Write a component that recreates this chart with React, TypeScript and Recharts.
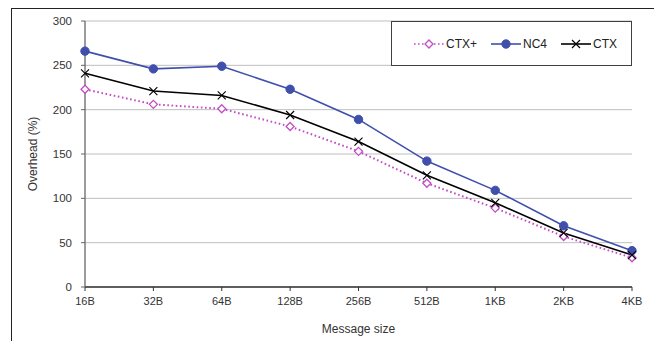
import React from 'react';
import {
  LineChart,
  Line,
  XAxis,
  YAxis,
  CartesianGrid,
} from 'recharts';

const sizes = ['16B', '32B', '64B', '128B', '256B', '512B', '1KB', '2KB', '4KB'];
const ctxPlus = [223, 206, 201, 181, 153, 117, 89, 57, 33];
const nc4 = [266, 246, 249, 223, 189, 142, 109, 69, 41];
const ctx = [241, 221, 216, 194, 164, 126, 95, 61, 36];
const yTicks = [0, 50, 100, 150, 200, 250, 300];

const data = sizes.map((size, i) => ({
  size,
  ctxPlus: ctxPlus[i],
  nc4: nc4[i],
  ctx: ctx[i],
}));

const BLUE = '#3f4fab';
const MAGENTA = '#c44cc4';
const FONT = '"Liberation Sans", Arial, sans-serif';

interface DotProps {
  cx?: number;
  cy?: number;
}

// 空心菱形
const DiamondDot = ({ cx = 0, cy = 0 }: DotProps) => (
  <path
    d={`M${cx},${cy - 4} L${cx + 4},${cy} L${cx},${cy + 4} L${cx - 4},${cy} Z`}
    fill="white"
    stroke={MAGENTA}
    strokeWidth={1.3}
  />
);

const CircleDot = ({ cx = 0, cy = 0 }: DotProps) => (
  <circle cx={cx} cy={cy} r={4.2} fill={BLUE} stroke={BLUE} />
);

const CrossDot = ({ cx = 0, cy = 0 }: DotProps) => (
  <path
    d={`M${cx - 4},${cy - 4} L${cx + 4},${cy + 4} M${cx - 4},${cy + 4} L${cx + 4},${cy - 4}`}
    stroke="#000"
    strokeWidth={1.1}
  />
);

const LegendBox = () => {
  const item = (label: string, line: React.ReactNode) => (
    <div style={{ display: 'flex', alignItems: 'center', marginRight: 14 }}>
      <svg width={30} height={12}>{line}</svg>
      <span style={{ marginLeft: 2 }}>{label}</span>
    </div>
  );
  return (
    <div
      style={{
        position: 'absolute',
        left: 383,
        top: 13,
        boxSizing: 'border-box',
        width: 241,
        height: 45,
        border: '1px solid #404040',
        background: 'white',
        display: 'flex',
        alignItems: 'center',
        justifyContent: 'flex-end',
        fontFamily: FONT,
        fontSize: 12,
        color: '#222',
      }}
    >
      {item(
        'CTX+',
        <g>
          <line x1={0} y1={6} x2={30} y2={6} stroke={MAGENTA} strokeWidth={1.6} strokeDasharray="1.6 2.4" />
          <DiamondDot cx={15} cy={6} />
        </g>,
      )}
      {item(
        'NC4',
        <g>
          <line x1={0} y1={6} x2={30} y2={6} stroke={BLUE} strokeWidth={1.6} />
          <CircleDot cx={15} cy={6} />
        </g>,
      )}
      {item(
        'CTX',
        <g>
          <line x1={0} y1={6} x2={30} y2={6} stroke="#000" strokeWidth={1.6} />
          <CrossDot cx={15} cy={6} />
        </g>,
      )}
    </div>
  );
};

const App: React.FC = () => {
  return (
    <div style={{ position: 'relative', width: 654, height: 333 }}>
      <LineChart
        width={654}
        height={333}
        data={data}
        margin={{ top: 13, right: 30, bottom: 8, left: 17 }}
      >
        <CartesianGrid vertical={false} stroke="#bfbfbf" strokeWidth={1} />
        <XAxis
          dataKey="size"
          scale="point"
          padding={{ left: 0, right: 0 }}
          tickSize={4}
          tickMargin={6}
          height={46}
          axisLine={{ stroke: '#333', strokeWidth: 1.3 }}
          tickLine={{ stroke: '#333' }}
          tick={{ fontSize: 11, fill: '#333', fontFamily: FONT }}
          label={{
            value: 'Message size',
            position: 'insideBottom',
            offset: 0,
            style: { fontSize: 12, fill: '#333', fontFamily: FONT },
          }}
        />
        <YAxis
          domain={[0, 300]}
          ticks={yTicks}
          width={60}
          tickSize={4}
          tickMargin={9}
          axisLine={{ stroke: '#666', strokeWidth: 1.3 }}
          tickLine={{ stroke: '#666' }}
          tick={{ fontSize: 11.5, fill: '#333', fontFamily: FONT }}
          label={{
            value: 'Overhead (%)',
            angle: -90,
            position: 'insideLeft',
            offset: 8,
            style: { textAnchor: 'middle', fontSize: 12, fill: '#333', fontFamily: FONT },
          }}
        />
        <Line
          dataKey="ctxPlus"
          stroke={MAGENTA}
          strokeWidth={2}
          strokeDasharray="1.6 2.6"
          dot={(p: DotProps & { key?: string }) => <DiamondDot key={p.key} cx={p.cx} cy={p.cy} />}
          isAnimationActive={false}
        />
        <Line
          dataKey="nc4"
          stroke={BLUE}
          strokeWidth={1.6}
          dot={(p: DotProps & { key?: string }) => <CircleDot key={p.key} cx={p.cx} cy={p.cy} />}
          isAnimationActive={false}
        />
        <Line
          dataKey="ctx"
          stroke="#000"
          strokeWidth={1.6}
          dot={(p: DotProps & { key?: string }) => <CrossDot key={p.key} cx={p.cx} cy={p.cy} />}
          isAnimationActive={false}
        />
      </LineChart>
      <LegendBox />
      {/* 外框 */}
      <div
        style={{
          position: 'absolute',
          left: 3,
          top: 0,
          width: 645,
          height: 360,
          border: '1.5px solid #222',
          boxSizing: 'border-box',
          pointerEvents: 'none',
        }}
      />
    </div>
  );
};

export default App;
